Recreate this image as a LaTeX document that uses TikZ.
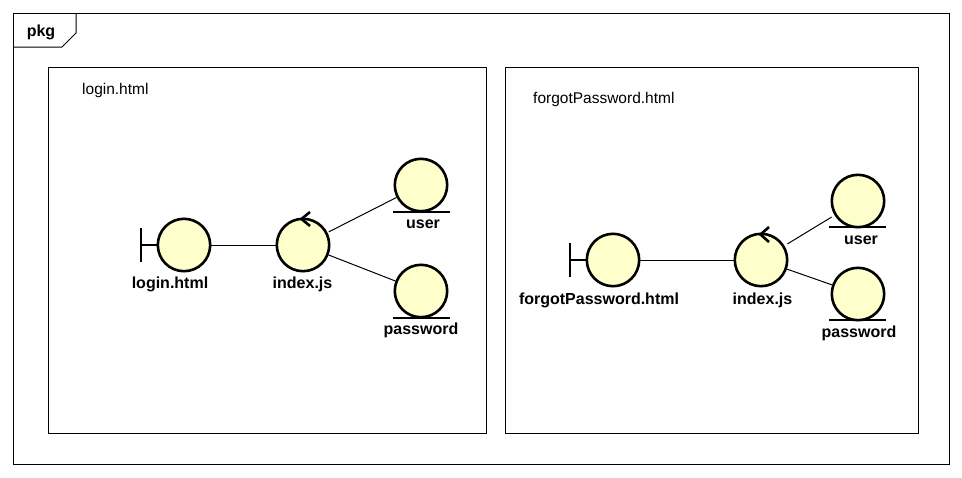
\documentclass[tikz,border=0pt]{standalone}
\usepackage{fontspec}
\setmainfont{Liberation Sans}
\usepackage{tikz}

\begin{document}
\begin{tikzpicture}[x=1pt,y=-1pt,
    obj/.style={circle,draw=black,line width=2.6pt,fill=lightyellow,minimum size=52.4pt,inner sep=0pt,outer sep=1.2pt},
    glyph/.style={line width=2.6pt},
    wire/.style={line width=1pt},
    gapwire/.style={wire,shorten <=3.5pt,shorten >=3.5pt},
    boxframe/.style={draw=black,line width=1pt,fill=white},
    lbl/.style={font=\fontsize{16}{18}\selectfont\bfseries,inner sep=0pt},
    boxtitle/.style={font=\fontsize{15.5}{18}\selectfont,inner sep=0pt,anchor=west}]
      \definecolor{lightyellow}{HTML}{FFFFCC}
      \useasboundingbox (0,0) rectangle (962,477);
      \draw[boxframe] (13,13) rectangle (949,464);
      \draw[wire] (13,47) -- (62,47) -- (76,33) -- (76,13);
      \node[lbl] (pkg) at (41,32) {pkg};
      \draw[boxframe] (48,67) rectangle (486,433);
      \draw[boxframe] (505,67) rectangle (918,433);
      \node[boxtitle] (titleA) at (82,90) {login.html};
      \node[boxtitle] (titleB) at (533,99) {forgotPassword.html};
      % left box
      \node[obj] (loginA) at (184,245) {};
      \node[obj] (indexA) at (303,245) {};
      \node[obj] (userA) at (421,185) {};
      \node[obj] (passA) at (421,291) {};
      \draw[glyph] (loginA.west) -- (141,245);
      \draw[glyph] (141,228) -- (141,262);
      \draw[glyph] (310,212) -- (301.5,219) -- (310,226);
      \draw[glyph] (393,212) -- (450,212);
      \draw[glyph] (393,318) -- (450,318);
      \draw[wire] (loginA) -- (indexA);
      \draw[wire,shorten <=1.5pt] (indexA) -- (userA);
      \draw[wire] (indexA) -- (passA);
      \node[lbl] (lblLoginA) at (170,284.7) {login.html};
      \node[lbl] (lblIndexA) at (302.5,284.7) {index.js};
      \node[lbl] (lblUserA) at (423,224.7) {user};
      \node[lbl] (lblPassA) at (421,330.7) {password};
      % right box
      \node[obj] (loginB) at (613,260) {};
      \node[obj] (indexB) at (761,260) {};
      \node[obj] (userB) at (858,201) {};
      \node[obj] (passB) at (858,294) {};
      \draw[glyph] (loginB.west) -- (570,260);
      \draw[glyph] (570,243) -- (570,277);
      \draw[glyph] (769,227) -- (760.5,234.5) -- (769,242);
      \draw[glyph] (829,227) -- (886,227);
      \draw[glyph] (829,320) -- (886,320);
      \draw[wire] (loginB) -- (indexB);
      \draw[gapwire] (indexB) -- (userB);
      \draw[wire] (indexB) -- (passB);
      \node[lbl] (lblLoginB) at (599,300.7) {forgotPassword.html};
      \node[lbl] (lblIndexB) at (762.5,300.7) {index.js};
      \node[lbl] (lblUserB) at (861,240.7) {user};
      \node[lbl] (lblPassB) at (859,333.7) {password};
    \end{tikzpicture}
\end{document}
